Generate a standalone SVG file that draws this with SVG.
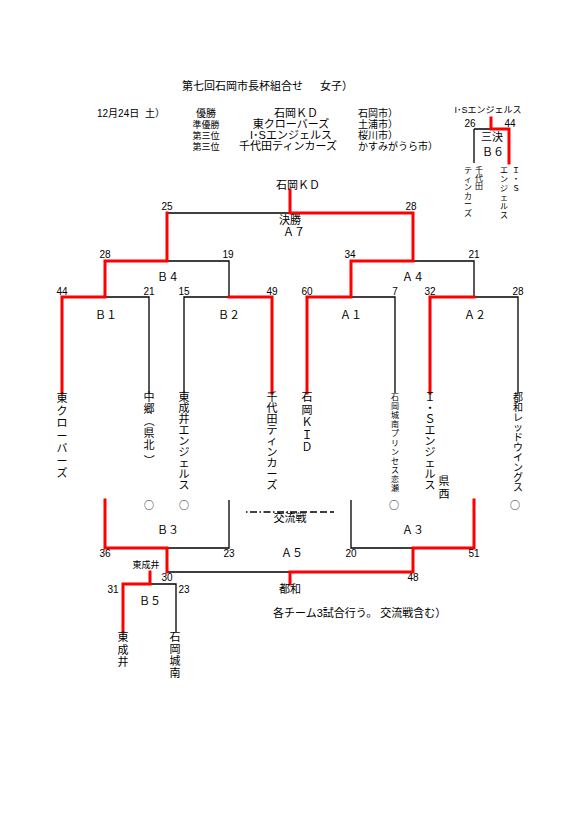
<svg xmlns="http://www.w3.org/2000/svg" width="580" height="820" viewBox="0 0 580 820">
<style>
.t{font-family:"Liberation Sans","Noto Sans CJK JP",sans-serif;font-size:11px;fill:#000}
.m{text-anchor:middle}
.n{font-family:"Liberation Sans","Noto Sans CJK JP",sans-serif;font-size:10px;fill:#000;text-anchor:middle}
.t.s9{font-size:9px}
.t.s10{font-size:10px}
.t.v8{font-size:8px}
.c{font-family:"Noto Sans CJK JP",sans-serif;font-size:10px;fill:#000;text-anchor:middle}
.r{stroke:#f00;stroke-width:3;fill:none;stroke-linecap:square}
.k{stroke:#000;stroke-width:1.3;fill:none}
</style>
<rect width="580" height="820" fill="#fff"/>
<g id="header" class="t">
<text x="182" y="90">第七回石岡市長杯組合せ</text>
<text x="320" y="90">女子）</text>
<text x="97" y="117" class="t s10">12月24日</text>
<text x="145" y="117" class="t s10">土）</text>
<text x="206" y="117" class="t m s10">優勝</text>
<text x="296" y="117" class="m">石岡ＫＤ</text>
<text x="358" y="117" class="t s10">石岡市）</text>
<text x="206" y="128" class="t m s9">準優勝</text>
<text x="291" y="128" class="m">東クローバーズ</text>
<text x="358" y="128" class="t s10">土浦市）</text>
<text x="206" y="139" class="t m s9">第三位</text>
<text x="291" y="139" class="m">I･Sエンジェルス</text>
<text x="358" y="139" class="t s10">桜川市）</text>
<text x="206" y="150" class="t m s9">第三位</text>
<text x="288" y="150" class="m">千代田ティンカーズ</text>
<text x="358" y="150" class="t s10">かすみがうら市）</text>
</g>
<g id="connectors">
<path class="k" d="M167 213H290 M167 261H229V297 M413 261H474V297 M105 297H149V393 M184 393V297H229 M351 297H395V393 M474 297H518V393 M229 500V548H167 M351 500V548H413 M167 572H290 M150 584H176V632 M474 129H491 M474 129V163"/>
<path class="r" d="M290 190V213H413V261H351V297 M167 213V261H105V297 M62 393V297H105 M229 297H272V393 M307 393V297H351 M430 393V297H474 M105 500V548H167V572 M474 500V548H413V572 M290 572H413 M290 572V584 M150 572V584H123V632 M491 118V129H509V163"/>
<path d="M246 512H290" stroke="#000" stroke-width="1.3" stroke-dasharray="1.5 2.5 7 2.5"/>
<path d="M290 512H334" stroke="#000" stroke-width="1.3" stroke-dasharray="7 3"/>
</g>
<g id="A7"><text class="t m" x="298" y="189">石岡ＫＤ</text><text class="n" x="167" y="210">25</text><text class="n" x="411" y="210">28</text><text class="t m" x="290" y="224">決勝</text><text class="t m" x="294" y="236">Ａ７</text></g>
<g id="B4"><text class="n" x="105" y="258">28</text><text class="n" x="228" y="258">19</text><text class="t m" x="168" y="281">Ｂ４</text></g>
<g id="A4"><text class="n" x="350" y="258">34</text><text class="n" x="474" y="258">21</text><text class="t m" x="413" y="281">Ａ４</text></g>
<g id="B1"><text class="n" x="62" y="295">44</text><text class="n" x="149" y="295">21</text><text class="t m" x="106" y="319">Ｂ１</text></g>
<g id="B2"><text class="n" x="184" y="295">15</text><text class="n" x="272" y="295">49</text><text class="t m" x="229" y="319">Ｂ２</text></g>
<g id="A1"><text class="n" x="307" y="295">60</text><text class="n" x="395" y="295">7</text><text class="t m" x="351" y="319">Ａ１</text></g>
<g id="A2"><text class="n" x="430" y="295">32</text><text class="n" x="518" y="295">28</text><text class="t m" x="475" y="319">Ａ２</text></g>
<g id="team-higashi-clovers"><text class="t m" x="62" y="402">東<tspan x="62" dy="12.5">ク</tspan><tspan x="62" dy="12.5">ロ</tspan><tspan x="62" dy="12.5">ー</tspan><tspan x="62" dy="12.5">バ</tspan><tspan x="62" dy="12.5">ー</tspan><tspan x="62" dy="12.5">ズ</tspan></text></g>
<g id="team-nakago"><text class="t m" x="149" y="401">中<tspan x="149" dy="12">郷</tspan><tspan x="149" dy="24">県</tspan><tspan x="149" dy="12">北</tspan></text>
<text class="t m" x="149" y="425" transform="rotate(90 149 421)">（</text><text class="t m" x="149" y="464" transform="rotate(90 149 460)">）</text>
<text class="c" x="149" y="509">○</text></g>
<g id="team-higashinarui-angels"><text class="t m" x="184" y="401">東<tspan x="184" dy="11">成</tspan><tspan x="184" dy="11">井</tspan><tspan x="184" dy="11">エ</tspan><tspan x="184" dy="11">ン</tspan><tspan x="184" dy="11">ジ</tspan><tspan x="184" dy="11">ェ</tspan><tspan x="184" dy="11">ル</tspan><tspan x="184" dy="11">ス</tspan></text><text class="c" x="184" y="509">○</text></g>
<g id="team-chiyoda-tinkers"><text class="t m" x="272" y="401">千<tspan x="272" dy="11">代</tspan><tspan x="272" dy="11">田</tspan><tspan x="272" dy="11">テ</tspan><tspan x="272" dy="11">ィ</tspan><tspan x="272" dy="11">ン</tspan><tspan x="272" dy="11">カ</tspan><tspan x="272" dy="11">ー</tspan><tspan x="272" dy="11">ズ</tspan></text></g>
<g id="team-ishioka-kid"><text class="t m" x="307" y="401">石<tspan x="307" dy="12.5">岡</tspan><tspan x="307" dy="12.5">Ｋ</tspan><tspan x="307" dy="12.5">Ｉ</tspan><tspan x="307" dy="12.5">Ｄ</tspan></text></g>
<g id="team-ishioka-jonan-princess"><text class="t m v8" x="395" y="400">石<tspan x="395" dy="9.1">岡</tspan><tspan x="395" dy="9.1">城</tspan><tspan x="395" dy="9.1">南</tspan><tspan x="395" dy="9.1">プ</tspan><tspan x="395" dy="9.1">リ</tspan><tspan x="395" dy="9.1">ン</tspan><tspan x="395" dy="9.1">セ</tspan><tspan x="395" dy="9.1">ス</tspan><tspan x="395" dy="9.1">恋</tspan><tspan x="395" dy="9.1">瀬</tspan></text><text class="c" x="394" y="509">○</text></g>
<g id="team-is-angels"><text class="t m" x="430" y="401">Ｉ<tspan x="430" dy="11">・</tspan><tspan x="430" dy="11">Ｓ</tspan><tspan x="430" dy="11">エ</tspan><tspan x="430" dy="11">ン</tspan><tspan x="430" dy="11">ジ</tspan><tspan x="430" dy="11">ェ</tspan><tspan x="430" dy="11">ル</tspan><tspan x="430" dy="11">ス</tspan></text><text class="t m" x="444" y="485">県<tspan x="444" dy="12.5">西</tspan></text></g>
<g id="team-tsuwa-red-wings"><text class="t m s10" x="518" y="401">都<tspan x="518" dy="10">和</tspan><tspan x="518" dy="10">レ</tspan><tspan x="518" dy="10">ッ</tspan><tspan x="518" dy="10">ド</tspan><tspan x="518" dy="10">ウ</tspan><tspan x="518" dy="10">イ</tspan><tspan x="518" dy="10">ン</tspan><tspan x="518" dy="10">グ</tspan><tspan x="518" dy="10">ス</tspan></text><text class="c" x="515" y="509">○</text></g>
<g id="exchange"><text class="t m" x="290" y="522">交流戦</text></g>
<g id="B3"><text class="t m" x="168" y="534">Ｂ３</text><text class="n" x="105" y="557">36</text><text class="n" x="229" y="557">23</text></g>
<g id="A3"><text class="t m" x="413" y="534">Ａ３</text><text class="n" x="351" y="557">20</text><text class="n" x="474" y="557">51</text></g>
<g id="A5"><text class="t m" x="292" y="557">Ａ５</text><text class="n" x="167" y="581">30</text><text class="n" x="413" y="581">48</text><text class="t m" x="290" y="593">都和</text></g>
<g id="B5"><text class="t m s9" x="146" y="568">東成井</text><text class="n" x="113" y="593">31</text><text class="n" x="184" y="593">23</text><text class="t m" x="150" y="605">Ｂ５</text></g>
<g id="team-higashinarui"><text class="t m" x="123" y="641">東<tspan x="123" dy="12.5">成</tspan><tspan x="123" dy="12.5">井</tspan></text></g>
<g id="team-ishioka-jonan"><text class="t m" x="175" y="641">石<tspan x="175" dy="12">岡</tspan><tspan x="175" dy="12">城</tspan><tspan x="175" dy="12">南</tspan></text></g>
<g id="note"><text class="t" x="273" y="617">各チーム3試合行う。 交流戦含む）</text></g>
<g id="B6"><text class="t m s9" x="488" y="113">I･Sエンジェルス</text><text class="n" x="470" y="127">26</text><text class="n" x="510" y="127">44</text><text class="t m" x="492" y="141">三決</text><text class="t m" x="493" y="156">Ｂ６</text></g>
<g id="team-b6-chiyoda"><text class="t m v8" x="479" y="173">千<tspan x="479" dy="8">代</tspan><tspan x="479" dy="8">田</tspan></text><text class="t m v8" x="468" y="173">テ<tspan x="468" dy="8.5">ィ</tspan><tspan x="468" dy="8.5">ン</tspan><tspan x="468" dy="8.5">カ</tspan><tspan x="468" dy="8.5">ー</tspan><tspan x="468" dy="8.5">ズ</tspan></text></g>
<g id="team-b6-is"><text class="t m v8" x="516" y="173">Ｉ<tspan x="516" dy="9">・</tspan><tspan x="516" dy="9">Ｓ</tspan></text><text class="t m v8" x="504" y="173">エ<tspan x="504" dy="9">ン</tspan><tspan x="504" dy="9">ジ</tspan><tspan x="504" dy="9">ェ</tspan><tspan x="504" dy="9">ル</tspan><tspan x="504" dy="9">ス</tspan></text></g>
</svg>
